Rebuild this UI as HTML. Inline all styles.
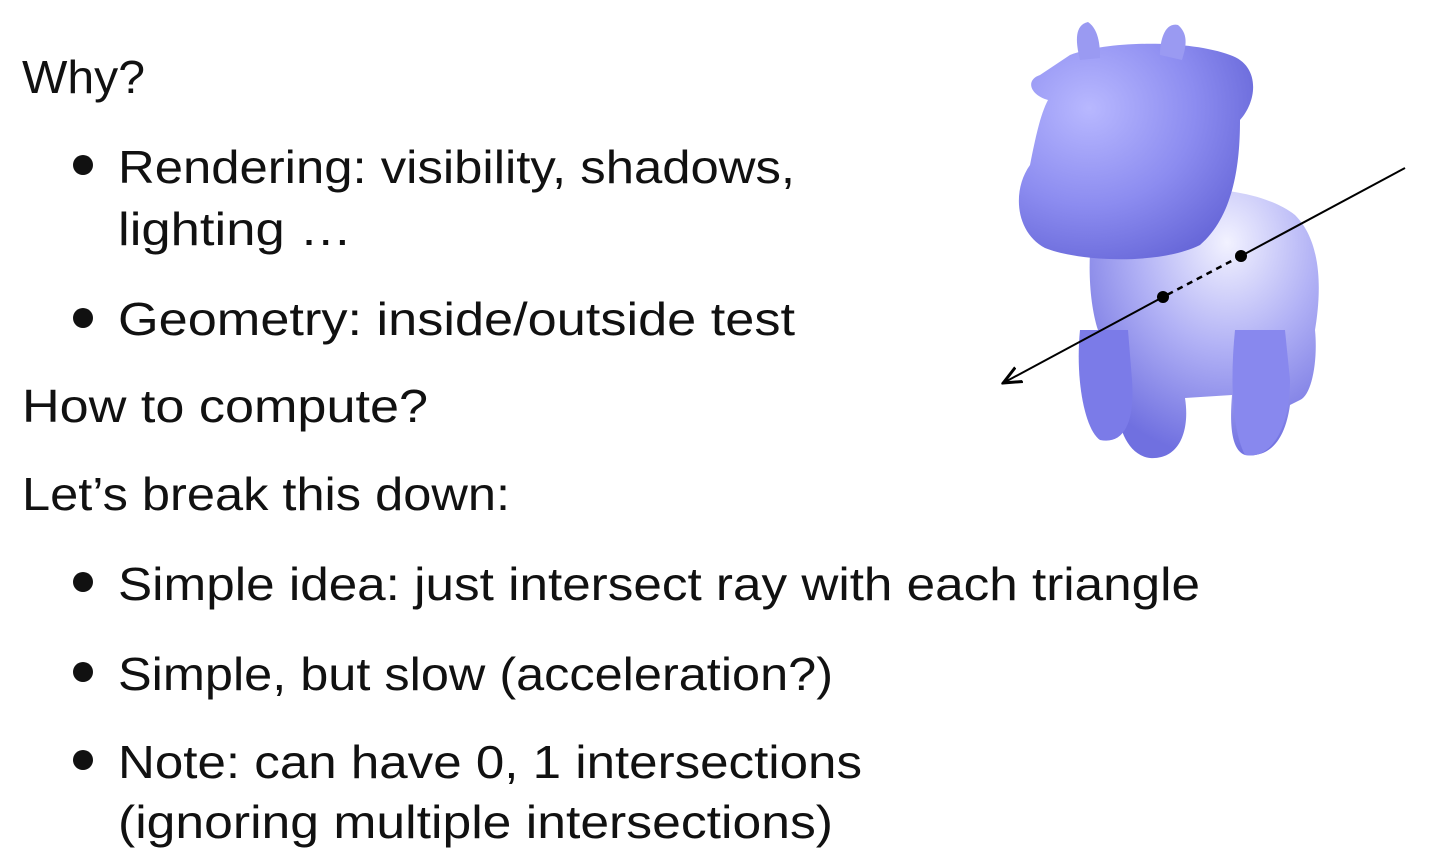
<!DOCTYPE html>
<html><head><meta charset="utf-8"><style>
body{margin:0;width:1444px;height:866px;background:#fff;overflow:hidden}
svg{display:block}
text{font-family:"Liberation Sans",sans-serif;font-size:46px;fill:#111}
</style></head><body>
<svg width="1444" height="866" viewBox="0 0 1444 866">
<defs>
<radialGradient id="cg" cx="0.3" cy="0.3" r="0.9">
<stop offset="0" stop-color="#b8b8ff"/><stop offset="0.5" stop-color="#8c8cf0"/><stop offset="1" stop-color="#5a5ad0"/></radialGradient>
<radialGradient id="bg2" cx="0.6" cy="0.2" r="0.8">
<stop offset="0" stop-color="#f2f2ff"/><stop offset="0.5" stop-color="#b0b0f5"/><stop offset="1" stop-color="#7070e0"/></radialGradient>
<marker id="ah" markerWidth="10" markerHeight="10" refX="8" refY="5" orient="auto"><path d="M0,1 L9,5 L0,9" fill="none" stroke="#000" stroke-width="1.5"/></marker>
</defs>
<g>
<path d="M1100,200 C1150,185 1250,180 1295,215 C1325,245 1320,300 1315,330 C1318,360 1312,395 1300,400 L1290,405 C1285,440 1270,458 1245,455 C1230,450 1230,420 1232,395 L1185,398 C1190,430 1180,460 1150,458 C1125,455 1115,420 1118,395 C1100,390 1095,360 1098,330 C1088,300 1085,240 1100,200 Z" fill="url(#bg2)"/>
<path d="M1080,330 C1075,380 1085,430 1100,440 C1125,445 1135,420 1132,380 L1128,330 Z" fill="#7b7be8"/>
<path d="M1235,330 C1230,380 1232,430 1245,455 C1270,460 1290,430 1290,380 L1285,330 Z" fill="#8888ee"/>
<path d="M1070,55 C1110,40 1190,40 1230,55 C1260,65 1258,100 1240,120 C1240,160 1235,215 1200,245 C1160,265 1080,262 1045,248 C1015,232 1012,190 1030,165 C1035,140 1040,115 1048,100 C1030,95 1025,80 1040,75 Z" fill="url(#cg)"/>
<path d="M1080,60 C1075,40 1075,25 1088,22 C1100,30 1100,50 1100,58 Z" fill="#9a9af2"/>
<path d="M1160,55 C1160,40 1165,22 1178,25 C1190,35 1185,50 1182,60 Z" fill="#9a9af2"/>
</g>
<g>
<line x1="1405" y1="168" x2="1241" y2="256" stroke="#000" stroke-width="2"/>
<line x1="1241" y1="256" x2="1163" y2="297" stroke="#000" stroke-width="2.5" stroke-dasharray="6,5"/>
<line x1="1163" y1="297" x2="1005" y2="382" stroke="#000" stroke-width="2" marker-end="url(#ah)"/>
<circle cx="1241" cy="256" r="6" fill="#000"/>
<circle cx="1163" cy="297" r="6" fill="#000"/>
</g>
<g>
<text x="22" y="93" textLength="123" lengthAdjust="spacingAndGlyphs">Why?</text>
<circle cx="83" cy="165" r="10" fill="#111"/>
<text x="118" y="183" textLength="677" lengthAdjust="spacingAndGlyphs">Rendering: visibility, shadows,</text>
<text x="118" y="245" textLength="234" lengthAdjust="spacingAndGlyphs">lighting …</text>
<circle cx="83" cy="318" r="10" fill="#111"/>
<text x="118" y="335" textLength="677" lengthAdjust="spacingAndGlyphs">Geometry: inside/outside test</text>
<text x="22" y="422" textLength="406" lengthAdjust="spacingAndGlyphs">How to compute?</text>
<text x="22" y="510" textLength="488" lengthAdjust="spacingAndGlyphs">Let’s break this down:</text>
<circle cx="83" cy="582" r="10" fill="#111"/>
<text x="118" y="600" textLength="1082" lengthAdjust="spacingAndGlyphs">Simple idea: just intersect ray with each triangle</text>
<circle cx="83" cy="672" r="10" fill="#111"/>
<text x="118" y="690" textLength="715" lengthAdjust="spacingAndGlyphs">Simple, but slow (acceleration?)</text>
<circle cx="83" cy="760" r="10" fill="#111"/>
<text x="118" y="778" textLength="744" lengthAdjust="spacingAndGlyphs">Note: can have 0, 1 intersections</text>
<text x="118" y="838" textLength="715" lengthAdjust="spacingAndGlyphs">(ignoring multiple intersections)</text>
</g>
</svg>
</body></html>
